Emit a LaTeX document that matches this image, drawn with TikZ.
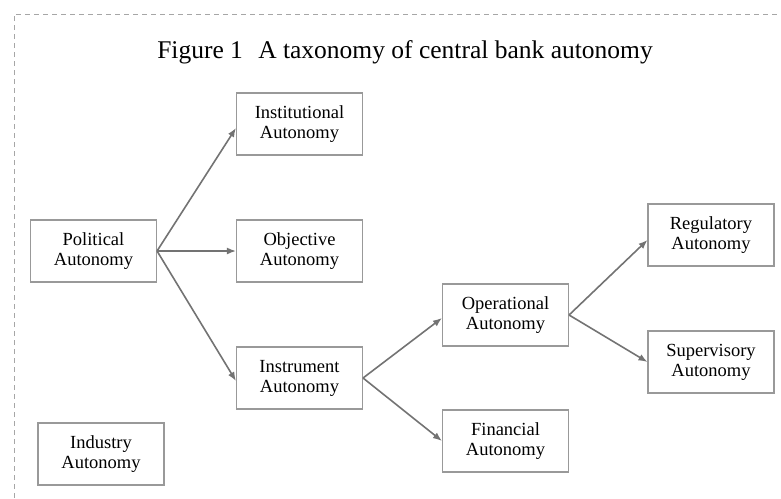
\documentclass[tikz,border=0pt]{standalone}
\usepackage{fontspec}
\setmainfont{Liberation Serif}
\usetikzlibrary{arrows.meta}
\begin{document}
\begin{tikzpicture}[x=1pt,y=-1pt,
  box/.style={draw=black!40,line width=1.1pt,minimum width=126pt,minimum height=62pt,
    inner sep=0pt,align=center,text=black,font=\fontsize{18.5}{20}\selectfont},
  conn/.style={draw=black!55,line width=1.6pt,-{Latex[length=9pt,width=7pt]}}]
\useasboundingbox (0,0) rectangle (781,498);
\draw[black!35,line width=1pt,dash pattern=on 5pt off 4pt] (14,498) -- (14,14) -- (781,14);
\node[anchor=base,font=\fontsize{25.5}{28}\selectfont,text=black] (title) at (405,58) {Figure 1\hspace{0.6em}A taxonomy of central bank autonomy};
\node[box] (inst) at (299.5,124) {Institutional\\Autonomy};
\node[box] (pol) at (93.5,251) {Political\\Autonomy};
\node[box] (obj) at (299.5,251) {Objective\\Autonomy};
\node[box] (instr) at (299.5,378) {Instrument\\Autonomy};
\node[box] (oper) at (505.5,315) {Operational\\Autonomy};
\node[box] (fin) at (505.5,441) {Financial\\Autonomy};
\node[box] (reg) at (711,235) {Regulatory\\Autonomy};
\node[box] (sup) at (711,362) {Supervisory\\Autonomy};
\node[box] (ind) at (101,454) {Industry\\Autonomy};
\draw[conn] (pol.east) -- ([yshift=-4pt]inst.west);
\draw[conn] (pol.east) -- (obj.west);
\draw[conn] (pol.east) -- ([yshift=-3pt]instr.west);
\draw[conn] (instr.east) -- ([yshift=-3pt]oper.west);
\draw[conn] (instr.east) -- (fin.west);
\draw[conn] (oper.east) -- ([yshift=-5pt]reg.west);
\draw[conn] (oper.east) -- (sup.west);
\end{tikzpicture}
\end{document}
